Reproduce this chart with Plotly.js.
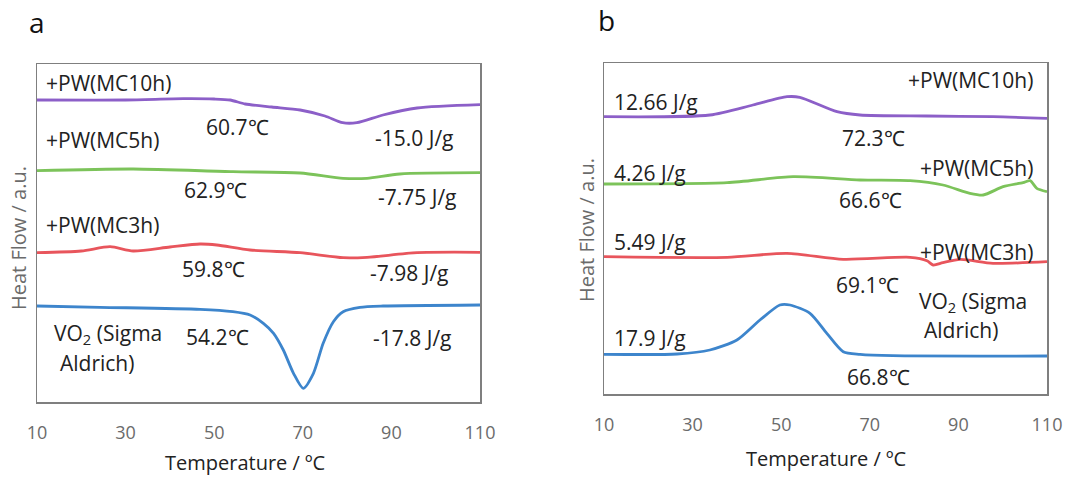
<!DOCTYPE html>
<html>
<head>
<meta charset="utf-8">
<script src="https://cdn.plot.ly/plotly-3.0.1.min.js"></script>
<style>html,body{margin:0;padding:0;background:#fff;}#chart{width:1067px;height:477px;}</style>
</head>
<body>
<div id="chart"></div>
<script>
// ---------- Data (Heat flow, arbitrary units) ----------
// Panel a
const aPurpleT = [10, 30, 43, 50, 53.6, 57, 63, 69.4, 75, 79, 82.2, 88.1, 95.8, 110];
const aPurpleY = [302, 302, 303.3, 303, 302, 298, 295, 292, 286, 279.3, 279.3, 287, 294, 297.3];
const aGreenT = [10, 31.7, 54.2, 69.4, 79.1, 84.5, 91.9, 110];
const aGreenY = [231.3, 233, 230.3, 229, 223.7, 223.7, 228, 229.3];
const aRedT = [10, 20, 26.5, 31.7, 40, 46.8, 50.6, 58.1, 69.4, 79.1, 84.5, 95.8, 110];
const aRedY = [149.3, 151, 155.3, 151, 155, 158, 157, 152, 149.3, 144.3, 144.7, 149.3, 149.7];
const aBlueT = [10, 24.2, 46.8, 54.2, 58.1, 61.1, 63.4, 65.6, 67.9, 70.1, 72.4, 74.6, 76.9, 79.1, 82.9, 88.1, 110];
const aBlueY = [96, 94.7, 92.7, 90.3, 87, 78.7, 68.7, 52, 28.7, 13.7, 28.7, 58.7, 80.3, 90.3, 94.7, 96, 97];
// Panel b
const bPurpleT = [10, 33.9, 43.6, 51.3, 54.2, 62.6, 67.8, 82.9, 97.8, 110];
const bPurpleY = [277.3, 279, 289, 297.3, 296.7, 282.3, 279, 278, 277.3, 275.7];
const bGreenT = [10, 37.8, 52.7, 67.8, 79.1, 86.5, 92.6, 95.6, 100.1, 104.6, 106.2, 107.7, 110];
const bGreenY = [210, 211.3, 217.3, 214, 213.3, 209, 200.7, 199, 207.3, 211.3, 213.3, 205.7, 202.3];
const bRedT = [10, 37.8, 51.3, 64, 79.1, 82.9, 84.3, 86.5, 90.4, 97.8, 110];
const bRedY = [137.3, 136.7, 140.7, 134.7, 136.7, 133.3, 129, 131.3, 134.7, 130.7, 132.3];
const bBlueT = [10, 26.5, 33.9, 40, 45.2, 49.7, 52, 56.5, 60.3, 64, 67.8, 75.2, 110];
const bBlueY = [39.7, 40, 44, 54, 74, 89, 89, 80.7, 60.7, 42.3, 39.7, 38.3, 38];

const tickVals = [10, 30, 50, 70, 90, 110];
const tickText = ["10", "30", "50", "70", "90", "110"];

// Text labels
const aLabels = [
  {t: "+PW(MC10h)", x: 44, y: 83, a: "left"},
  {t: "60.7℃", x: 237, y: 127, a: "center"},
  {t: "-15.0 J/g", x: 414, y: 138, a: "center"},
  {t: "+PW(MC5h)", x: 44, y: 140, a: "left"},
  {t: "62.9℃", x: 215, y: 190, a: "center"},
  {t: "-7.75 J/g", x: 417, y: 197, a: "center"},
  {t: "+PW(MC3h)", x: 44, y: 225, a: "left"},
  {t: "59.8℃", x: 213, y: 269, a: "center"},
  {t: "-7.98 J/g", x: 409, y: 273, a: "center"},
  {t: "VO<sub>2</sub> (Sigma", x: 52, y: 334, a: "left"},
  {t: "Aldrich)", x: 58, y: 363, a: "left"},
  {t: "54.2℃", x: 217, y: 337, a: "center"},
  {t: "-17.8 J/g", x: 412, y: 338, a: "center"}
];
const bLabels = [
  {t: "+PW(MC10h)", x: 1035, y: 80, a: "right"},
  {t: "12.66 J/g", x: 612, y: 102, a: "left"},
  {t: "72.3℃", x: 873, y: 138, a: "center"},
  {t: "4.26 J/g", x: 612, y: 173, a: "left"},
  {t: "+PW(MC5h)", x: 1035, y: 168, a: "right"},
  {t: "66.6℃", x: 870, y: 200, a: "center"},
  {t: "5.49 J/g", x: 612, y: 242, a: "left"},
  {t: "+PW(MC3h)", x: 1035, y: 252, a: "right"},
  {t: "69.1℃", x: 867, y: 285, a: "center"},
  {t: "VO<sub>2</sub> (Sigma", x: 917, y: 302, a: "left"},
  {t: "Aldrich)", x: 922, y: 330, a: "left"},
  {t: "17.9 J/g", x: 612, y: 338, a: "left"},
  {t: "66.8℃", x: 878, y: 377, a: "center"}
];

// ---------- Styling ----------
const W = 1067, H = 477;
const FONT = "Open Sans, sans-serif";
const cPurple = "#8C5FC8", cGreen = "#7CC35A", cRed = "#E8555C", cBlue = "#3D85CC";
const px = x => x / W;
const py = y => 1 - y / H;

function tr(x, y, c, xa, ya) {
  return {x: x, y: y, type: "scatter", mode: "lines", xaxis: xa, yaxis: ya,
          line: {color: c, width: 2.8, shape: "spline", smoothing: 0.7}, hoverinfo: "skip"};
}
const data = [
  tr(aPurpleT, aPurpleY, cPurple, "x", "y"),
  tr(aGreenT, aGreenY, cGreen, "x", "y"),
  tr(aRedT, aRedY, cRed, "x", "y"),
  tr(aBlueT, aBlueY, cBlue, "x", "y"),
  tr(bPurpleT, bPurpleY, cPurple, "x2", "y2"),
  tr(bGreenT, bGreenY, cGreen, "x2", "y2"),
  tr(bRedT, bRedY, cRed, "x2", "y2"),
  tr(bBlueT, bBlueY, cBlue, "x2", "y2")
];

function xax(d, anchor) {
  return {domain: d, anchor: anchor, range: [10, 110], tickmode: "array", tickvals: tickVals, ticktext: tickText,
          showgrid: false, zeroline: false, showline: true, mirror: true, linecolor: "#7f7f7f", linewidth: 1.5,
          ticks: "", ticklabelstandoff: 14, tickfont: {family: FONT, size: 18, color: "#6b6b6b"}, fixedrange: true};
}
function yax(d, anchor, r) {
  return {domain: d, anchor: anchor, range: r, showticklabels: false, showgrid: false, zeroline: false,
          showline: true, mirror: true, linecolor: "#7f7f7f", linewidth: 1.5, ticks: "", fixedrange: true};
}

const annotations = [];
function addLabels(list) {
  list.forEach(l => annotations.push({text: l.t, xref: "paper", yref: "paper", x: px(l.x), y: py(l.y),
    xanchor: l.a, yanchor: "middle", showarrow: false, font: {family: FONT, size: 21, color: "#222"}}));
}
addLabels(aLabels);
addLabels(bLabels);
// panel letters
annotations.push({text: "a", xref: "paper", yref: "paper", x: px(37), y: py(22), xanchor: "center", yanchor: "middle", showarrow: false, font: {family: FONT, size: 28, color: "#111"}});
annotations.push({text: "b", xref: "paper", yref: "paper", x: px(606), y: py(20), xanchor: "center", yanchor: "middle", showarrow: false, font: {family: FONT, size: 28, color: "#111"}});
// axis titles
[[245, 462], [826, 458]].forEach(p => annotations.push({text: "Temperature / ºC", xref: "paper", yref: "paper", x: px(p[0]), y: py(p[1]),
  xanchor: "center", yanchor: "middle", showarrow: false, font: {family: FONT, size: 20, color: "#222"}}));
[[18, 238], [587, 230]].forEach(p => annotations.push({text: "Heat Flow / a.u.", xref: "paper", yref: "paper", x: px(p[0]), y: py(p[1]),
  xanchor: "center", yanchor: "middle", textangle: -90, showarrow: false, font: {family: FONT, size: 20, color: "#6b6b6b"}}));

const layout = {
  width: W, height: H, margin: {l: 0, r: 0, t: 0, b: 0}, showlegend: false,
  paper_bgcolor: "#fff", plot_bgcolor: "#fff",
  xaxis: xax([px(37), px(480)], "y"),
  yaxis: yax([py(402), py(64)], "x", [0, 338]),
  xaxis2: xax([px(604), px(1047)], "y2"),
  yaxis2: yax([py(394), py(63)], "x2", [0, 331]),
  annotations: annotations
};
Plotly.newPlot("chart", data, layout, {staticPlot: true, displayModeBar: false});
</script>
</body>
</html>
